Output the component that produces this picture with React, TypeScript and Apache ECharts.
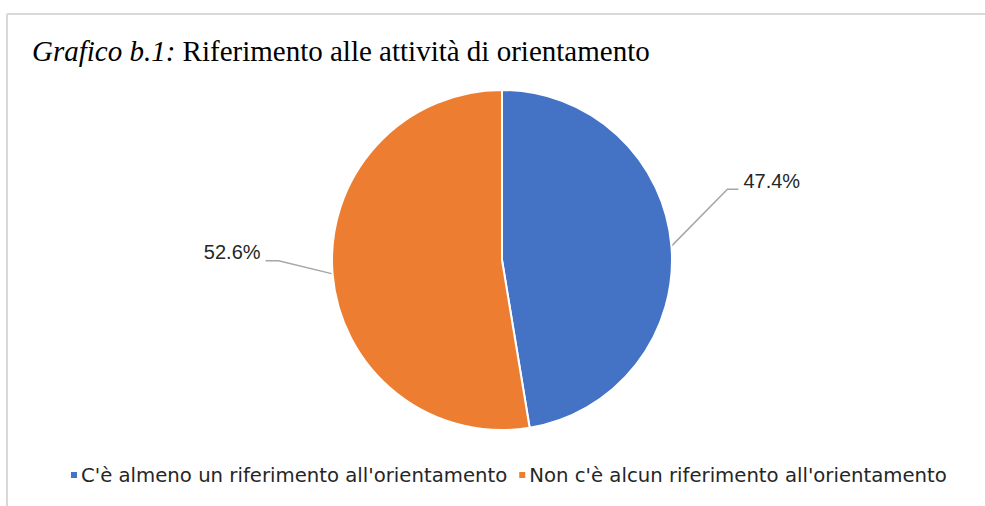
import React, { useEffect, useRef } from "react";
import * as echarts from "echarts";

const categories = [
  "C'è almeno un riferimento all'orientamento",
  "Non c'è alcun riferimento all'orientamento",
];
const values = [47.4, 52.6];
const colors = ["#4472C4", "#ED7D31"];
const titleItalic = "Grafico b.1:";
const titleRest = " Riferimento alle attività di orientamento";

export default function App() {
  const ref = useRef<HTMLDivElement>(null);
  useEffect(() => {
    document.body.style.margin = "0";
    const chart = echarts.init(ref.current!, null, { renderer: "svg" });
    chart.setOption({
      animation: false,
      backgroundColor: "#ffffff",
      title: {
        text: `{i|${titleItalic}}{n|${titleRest}}`,
        left: 27,
        top: 31,
        textStyle: {
          fontWeight: "normal",
          rich: {
            i: { fontFamily: "Liberation Serif", fontStyle: "italic", fontWeight: "normal", fontSize: 29, color: "#000" },
            n: { fontFamily: "Liberation Serif", fontWeight: "normal", fontSize: 29, color: "#000" },
          },
        },
      },
      graphic: [
        { type: "line", shape: { x1: 7, y1: 14, x2: 985, y2: 14 }, style: { stroke: "#d9d9d9", lineWidth: 2 } },
        { type: "line", shape: { x1: 7, y1: 14, x2: 7, y2: 506 }, style: { stroke: "#d9d9d9", lineWidth: 2 } },
      ],
      legend: {
        left: 69,
        top: 465,
        padding: 0,
        icon: "rect",
        itemWidth: 8,
        itemHeight: 8,
        itemGap: 10,
        textStyle: { fontFamily: "DejaVu Sans", fontSize: 19.7, color: "#262626", padding: [0, 0, 0, -2] },
        data: categories,
      },
      series: [
        {
          type: "pie",
          center: [502, 260],
          radius: 170,
          startAngle: 90,
          clockwise: true,
          itemStyle: { borderColor: "#fff", borderWidth: 2 },
          label: {
            show: true,
            position: "outside",
            fontFamily: "Liberation Sans",
            fontSize: 20,
            color: "#262626",
            formatter: (p: any) => `${Number(p.value).toFixed(1)}%`,
          },
          labelLine: { show: true, length: 50, length2: 10, lineStyle: { color: "#a6a6a6", width: 1.5 } },
          labelLayout: (params: any) => {
            const pts = params.labelLinePoints;
            if (!pts) return {};
            const p0 = pts[0];
            if (params.dataIndex === 0) {
              const elbow = [p0[0] + 56, p0[1] - 57];
              const end = [elbow[0] + 11, elbow[1]];
              return {
                x: end[0] + 5,
                y: elbow[1] - 8,
                align: "left",
                verticalAlign: "middle",
                labelLinePoints: [p0, elbow, end],
              };
            }
            const elbow = [p0[0] - 54, p0[1] - 13];
            const end = [elbow[0] - 13, elbow[1]];
            return {
              x: end[0] - 5,
              y: elbow[1] - 9,
              align: "right",
              verticalAlign: "middle",
              labelLinePoints: [p0, elbow, end],
            };
          },
          data: categories.map((name, i) => ({
            name,
            value: values[i],
            itemStyle: { color: colors[i] },
          })),
        },
      ],
    });
    return () => chart.dispose();
  }, []);
  return <div ref={ref} style={{ position: "fixed", left: 0, top: 0, width: 985, height: 506 }} />;
}
